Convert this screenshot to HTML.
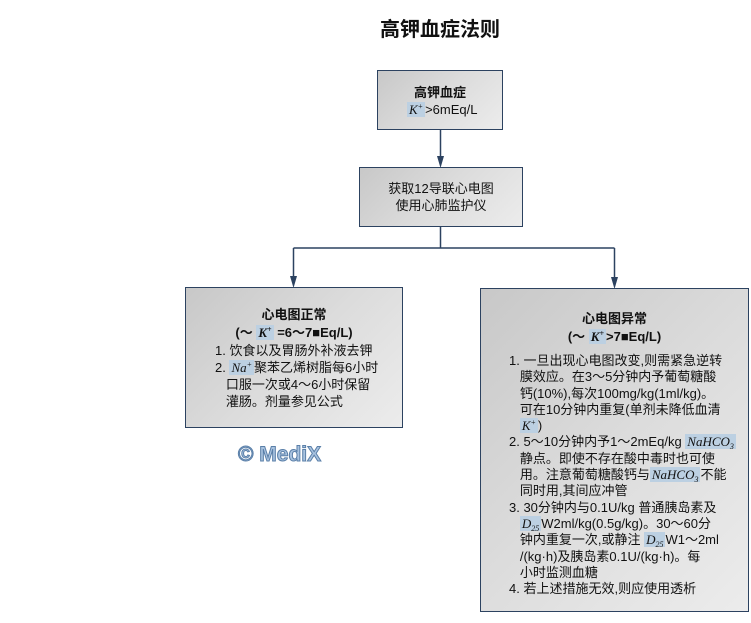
<!DOCTYPE html>
<html><head><meta charset="utf-8"><style>
body{margin:0;width:751px;height:623px;background:#fff;position:relative;overflow:hidden;font-family:"Liberation Sans","Noto Sans CJK SC",sans-serif;color:#111}
.box{position:absolute;border:1.5px solid #2c4260;background:linear-gradient(135deg,#c8c8c8 0%,#dcdcdc 50%,#ececec 100%);box-sizing:border-box}
.t{position:absolute;white-space:nowrap;font-size:13px;line-height:17px}
.k{font-family:"Liberation Serif",serif;font-style:italic;background:#bcd0e2;padding:0 2px}
sup,sub{font-size:8px;line-height:0;vertical-align:baseline;position:relative}
sup{top:-5px}
sub{top:3px}
</style></head><body>
<div class="t" style="left:0;width:880px;text-align:center;top:18px;font-size:20px;font-weight:bold;line-height:24px">高钾血症法则</div>

<svg width="751" height="623" style="position:absolute;left:0;top:0">
<g stroke="#2c4260" stroke-width="1.5" fill="none">
<line x1="440.5" y1="130" x2="440.5" y2="160"/>
<line x1="440.5" y1="227" x2="440.5" y2="248"/>
<line x1="293.5" y1="248" x2="614.5" y2="248"/>
<line x1="293.5" y1="248" x2="293.5" y2="278"/>
<line x1="614.5" y1="248" x2="614.5" y2="280"/>
</g>
<g fill="#2c4260">
<polygon points="437,156 444,156 440.5,168"/>
<polygon points="290,276 297,276 293.5,288"/>
<polygon points="611,277 618,277 614.5,289"/>
</g>
</svg>

<div class="box" style="left:377px;top:70px;width:126px;height:60px"></div>
<div class="t" style="left:377px;width:126px;text-align:center;top:84px;font-weight:bold">高钾血症</div>
<div class="t" style="left:407px;top:101px"><span class="k">K<sup>+</sup></span>&gt;6mEq/L</div>

<div class="box" style="left:359px;top:167px;width:164px;height:60px"></div>
<div class="t" style="left:359px;width:164px;text-align:center;top:180px">获取12导联心电图<br>使用心肺监护仪</div>

<div class="box" style="left:185px;top:287px;width:218px;height:141px"></div>
<div class="t" style="left:185px;width:218px;text-align:center;top:306px;font-weight:bold">心电图正常</div>
<div class="t" style="left:185px;width:218px;text-align:center;top:324px;font-weight:bold">(～ <span class="k">K<sup>+</sup></span> =6～7■Eq/L)</div>
<div class="t" style="left:215px;top:342px">1. 饮食以及胃肠外补液去钾<br>2. <span class="k">Na<sup>+</sup></span>聚苯乙烯树脂每6小时<br>&nbsp;&nbsp;&nbsp;口服一次或4～6小时保留<br>&nbsp;&nbsp;&nbsp;灌肠。剂量参见公式</div>

<div class="t" style="left:238px;top:442px;font-size:21px;line-height:26px;font-weight:bold;color:#a9c3e0;-webkit-text-stroke:1px #5a7fa8">© MediX</div>

<div class="box" style="left:480px;top:288px;width:269px;height:324px"></div>
<div class="t" style="left:480px;width:269px;text-align:center;top:310px;font-weight:bold">心电图异常</div>
<div class="t" style="left:480px;width:269px;text-align:center;top:328px;font-weight:bold">(～ <span class="k">K<sup>+</sup></span>&gt;7■Eq/L)</div>
<div class="t" style="left:509px;top:353px;line-height:16.3px">1. 一旦出现心电图改变,则需紧急逆转<br>&nbsp;&nbsp;&nbsp;膜效应。在3～5分钟内予葡萄糖酸<br>&nbsp;&nbsp;&nbsp;钙(10%),每次100mg/kg(1ml/kg)。<br>&nbsp;&nbsp;&nbsp;可在10分钟内重复(单剂未降低血清<br>&nbsp;&nbsp;&nbsp;<span class="k">K<sup>+</sup></span>)<br>2. 5～10分钟内予1～2mEq/kg <span class="k">NaHCO<sub>3</sub></span><br>&nbsp;&nbsp;&nbsp;静点。即使不存在酸中毒时也可使<br>&nbsp;&nbsp;&nbsp;用。注意葡萄糖酸钙与<span class="k">NaHCO<sub>3</sub></span>不能<br>&nbsp;&nbsp;&nbsp;同时用,其间应冲管<br>3. 30分钟内与0.1U/kg 普通胰岛素及<br>&nbsp;&nbsp;&nbsp;<span class="k">D<sub>25</sub></span>W2ml/kg(0.5g/kg)。30～60分<br>&nbsp;&nbsp;&nbsp;钟内重复一次,或静注 <span class="k">D<sub>25</sub></span>W1～2ml<br>&nbsp;&nbsp;&nbsp;/(kg·h)及胰岛素0.1U/(kg·h)。每<br>&nbsp;&nbsp;&nbsp;小时监测血糖<br>4. 若上述措施无效,则应使用透析</div>
</body></html>
